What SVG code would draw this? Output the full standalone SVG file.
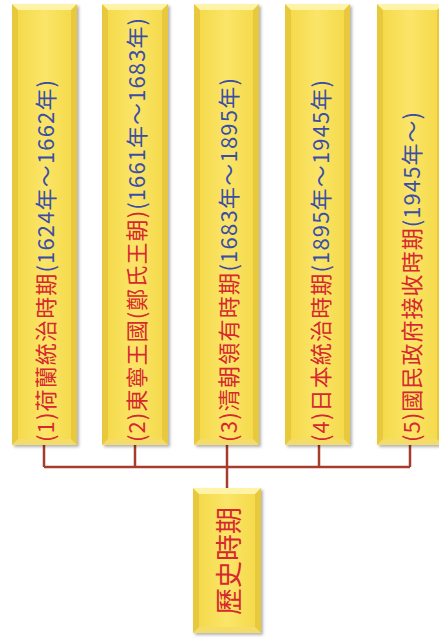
<svg xmlns="http://www.w3.org/2000/svg" width="439" height="640" viewBox="0 0 439 640">
<style>
.t{font-family:"Noto Sans CJK TC","Noto Sans CJK SC",sans-serif;font-size:22px;dominant-baseline:central}
.r{fill:#d6282e}
.b{fill:#3a4ea6}
.conn{stroke:#a63c2c;stroke-width:2.5;fill:none}
.o{fill:#e8c93c;filter:url(#sh)}
.hi{fill:#fff3a8}
.lo{fill:#f3dc6a}
.in{fill:url(#g)}
</style>
<defs>
<linearGradient id="g" x1="0" y1="0" x2="1" y2="0">
<stop offset="0" stop-color="#f5da4c"/>
<stop offset="0.5" stop-color="#fbe568"/>
<stop offset="1" stop-color="#f5da4c"/>
</linearGradient>
<filter id="sh" x="-20%" y="-5%" width="140%" height="110%">
<feDropShadow dx="2" dy="2" stdDeviation="1.5" flood-color="#000" flood-opacity="0.3"/>
</filter>
</defs>
<g id="connectors">
<path class="conn" d="M44,445V467M135,445V467M227,445V467M319,445V467M410,445V467M44,467H410M227,467V488"/>
</g>
<g id="n1">
<rect class="o" x="12" y="4" width="65" height="441"/>
<polygon class="hi" points="12,4 77,4 71,10 18,10"/>
<polygon class="lo" points="12,445 77,445 71,439 18,439"/>
<rect class="in" x="18" y="10" width="53" height="429"/>
<text class="t" transform="translate(44,442) rotate(-90)" textLength="362" lengthAdjust="spacing"><tspan class="r">(1)荷蘭統治時期</tspan><tspan class="b">(1624年～1662年)</tspan></text>
</g>
<g id="n2">
<rect class="o" x="102" y="4" width="66" height="441"/>
<polygon class="hi" points="102,4 168,4 162,10 108,10"/>
<polygon class="lo" points="102,445 168,445 162,439 108,439"/>
<rect class="in" x="108" y="10" width="54" height="429"/>
<text class="t" transform="translate(135,442) rotate(-90)" textLength="424" lengthAdjust="spacing"><tspan class="r">(2)東寧王國(鄭氏王朝)</tspan><tspan class="b">(1661年～1683年)</tspan></text>
</g>
<g id="n3">
<rect class="o" x="194" y="4" width="65" height="441"/>
<polygon class="hi" points="194,4 259,4 253,10 200,10"/>
<polygon class="lo" points="194,445 259,445 253,439 200,439"/>
<rect class="in" x="200" y="10" width="53" height="429"/>
<text class="t" transform="translate(227,442) rotate(-90)" textLength="364" lengthAdjust="spacing"><tspan class="r">(3)清朝領有時期</tspan><tspan class="b">(1683年～1895年)</tspan></text>
</g>
<g id="n4">
<rect class="o" x="285" y="4" width="65" height="441"/>
<polygon class="hi" points="285,4 350,4 344,10 291,10"/>
<polygon class="lo" points="285,445 350,445 344,439 291,439"/>
<rect class="in" x="291" y="10" width="53" height="429"/>
<text class="t" transform="translate(319,442) rotate(-90)" textLength="362" lengthAdjust="spacing"><tspan class="r">(4)日本統治時期</tspan><tspan class="b">(1895年～1945年)</tspan></text>
</g>
<g id="n5">
<rect class="o" x="377" y="4" width="66" height="441"/>
<polygon class="hi" points="377,4 443,4 437,10 383,10"/>
<polygon class="lo" points="377,445 443,445 437,439 383,439"/>
<rect class="in" x="383" y="10" width="54" height="429"/>
<text class="t" transform="translate(410,442) rotate(-90)" textLength="330" lengthAdjust="spacing"><tspan class="r">(5)國民政府接收時期</tspan><tspan class="b">(1945年～)</tspan></text>
</g>
<g id="n0">
<rect class="o" x="193" y="488" width="68" height="145"/>
<polygon class="hi" points="193,488 261,488 255,494 199,494"/>
<polygon class="lo" points="193,633 261,633 255,627 199,627"/>
<rect class="in" x="199" y="494" width="56" height="133"/>
<text class="t r" style="font-size:27px" text-anchor="middle" transform="translate(227,561) rotate(-90)">歷史時期</text>
</g>
</svg>
